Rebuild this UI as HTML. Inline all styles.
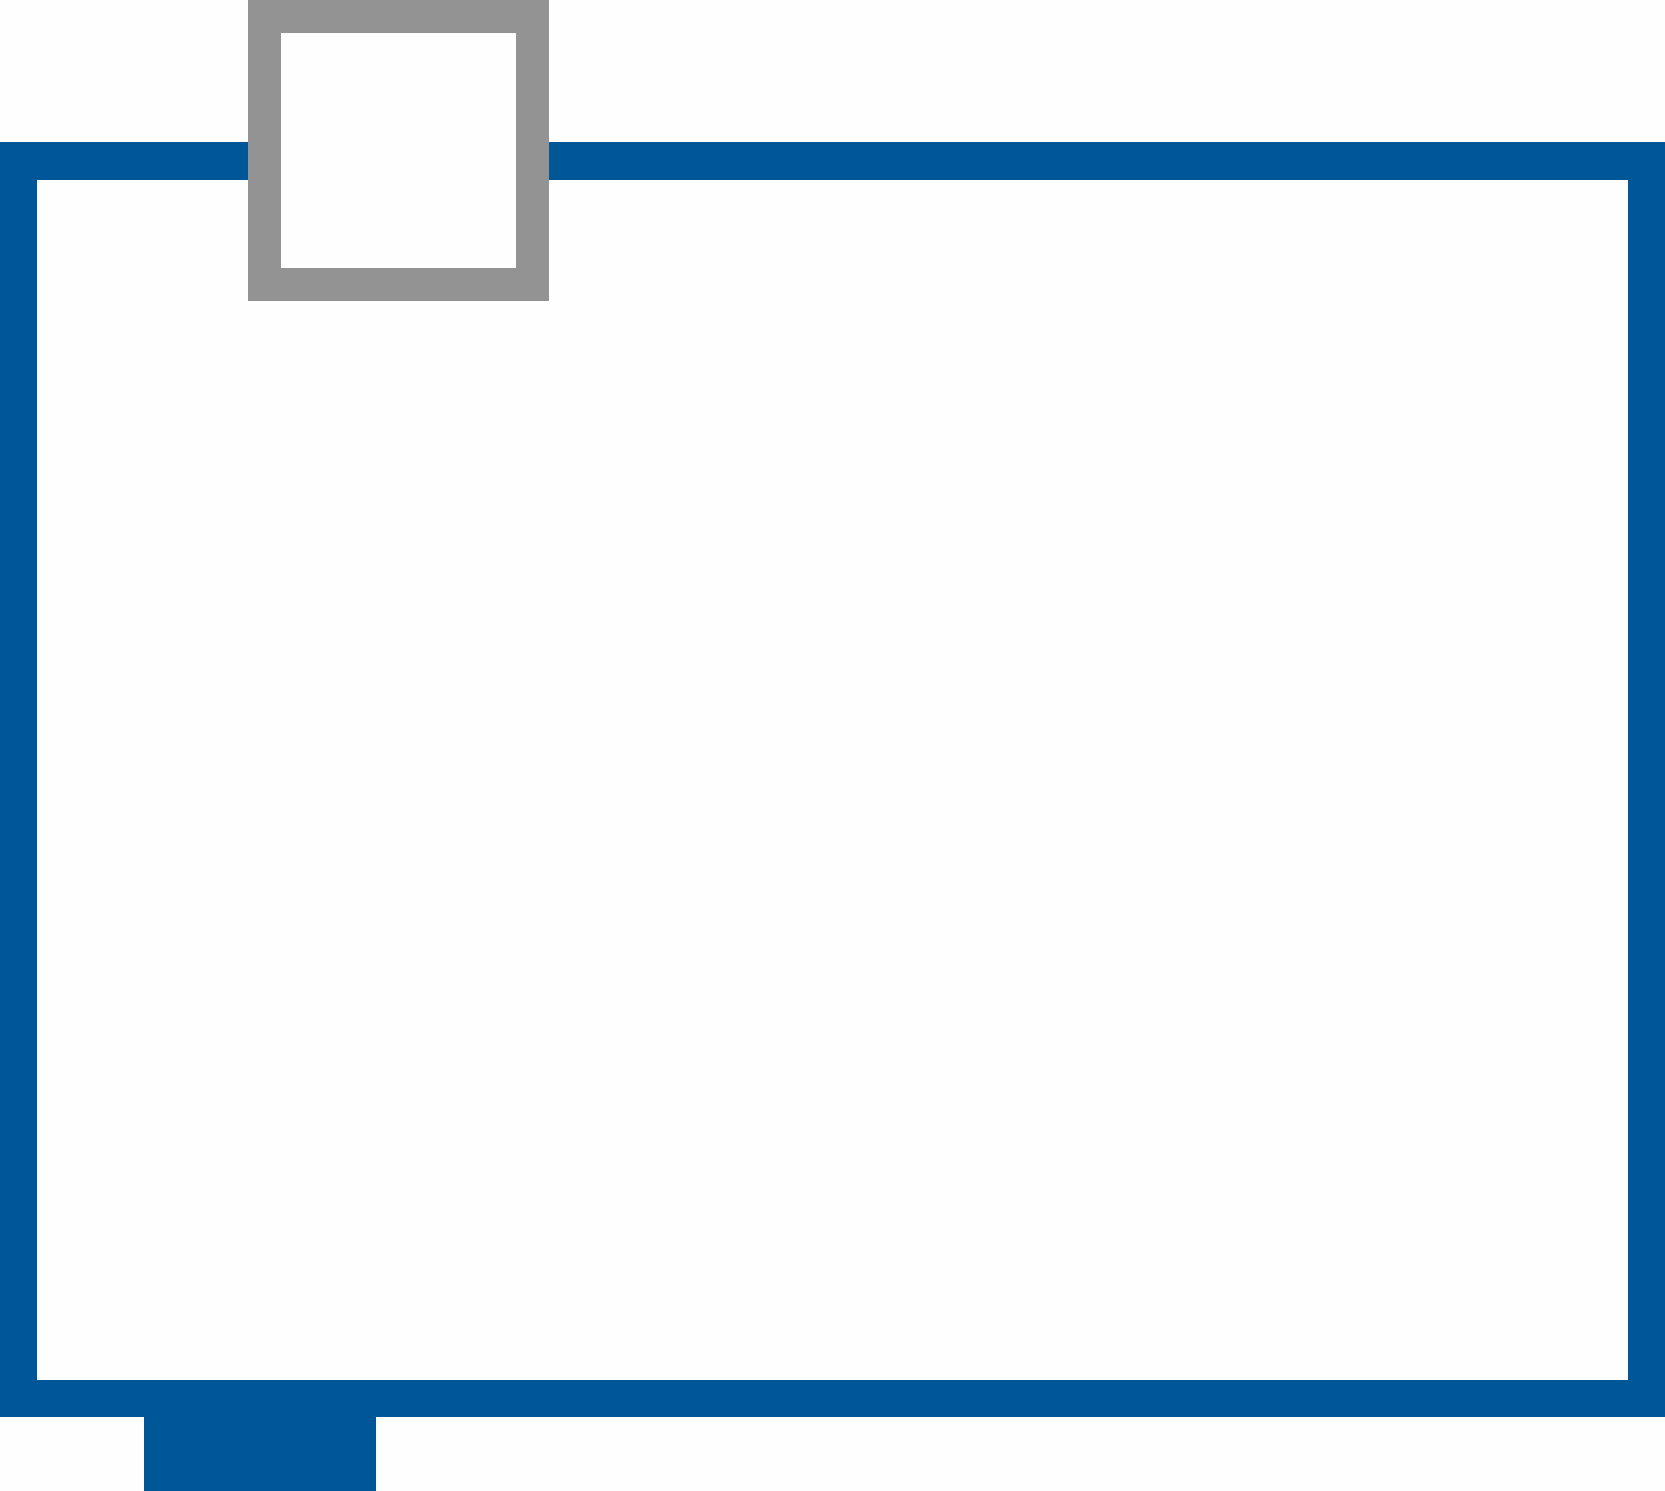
<!DOCTYPE html>
<html><head><meta charset="utf-8"><style>
html,body{margin:0;padding:0;background:#fefefe;}
#c{position:relative;width:1665px;height:1491px;overflow:hidden;background:#fefefe;}
.a{position:absolute;box-sizing:border-box;}
</style></head><body>
<div id="c">
<div class="a" style="left:0;top:142px;width:1665px;height:1275px;border:37px solid #005798;border-top-width:38px;"></div>
<div class="a" style="left:144px;top:1410px;width:232px;height:81px;background:#005798;"></div>
<div class="a" style="left:248px;top:0;width:301px;height:301px;border:33px solid #939393;background:#fefefe;"></div>
</div>
</body></html>
